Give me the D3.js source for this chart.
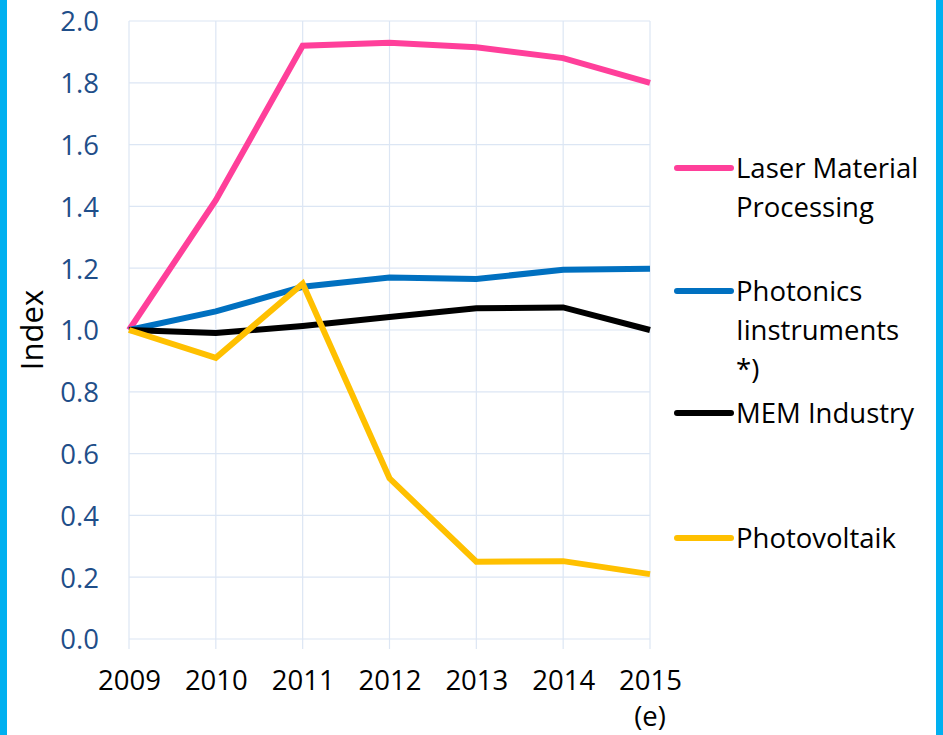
<!DOCTYPE html>
<html><head><meta charset="utf-8">
<script src="https://cdn.jsdelivr.net/npm/d3@7"></script>
<style>body{margin:0;background:#fff;}svg{display:block;}</style>
</head><body>
<svg id="c" width="943" height="735"></svg>
<script>
const years = [2009, 2010, 2011, 2012, 2013, 2014, 2015];
const yearLabels = ["2009", "2010", "2011", "2012", "2013", "2014", "2015"];
const yTicks = [0, 0.2, 0.4, 0.6, 0.8, 1.0, 1.2, 1.4, 1.6, 1.8, 2.0];
const seriesNames = ["Laser Material Processing", "Photonics Iinstruments *)", "MEM Industry", "Photovoltaik"];
const laser = [1.0, 1.42, 1.92, 1.93, 1.915, 1.88, 1.80];
const photonics = [1.0, 1.06, 1.14, 1.17, 1.165, 1.195, 1.198];
const mem = [1.0, 0.99, 1.013, 1.042, 1.07, 1.073, 1.0];
const photovoltaik = [1.0, 0.91, 1.15, 0.52, 0.25, 0.252, 0.21];
const colors = ["#ff3f9a", "#0070c0", "#000000", "#ffc000"];
const legendLines = [["Laser Material", "Processing"], ["Photonics", "Iinstruments", "*)"], ["MEM Industry"], ["Photovoltaik"]];
const legendY = [168, 291, 413, 538];

const svg = d3.select("#c");
const font = "'Open Sans', sans-serif";
const fs = 27.5;
// side borders
svg.append("rect").attr("x", 0).attr("y", 0).attr("width", 7).attr("height", 735).attr("fill", "#00b0f0");
svg.append("rect").attr("x", 936).attr("y", 0).attr("width", 7).attr("height", 735).attr("fill", "#00b0f0");

const x = d3.scaleLinear().domain([2009, 2015]).range([129, 650]);
const y = d3.scaleLinear().domain([0, 2]).range([639, 21]);

const g = svg.append("g");
g.selectAll("line.h").data(yTicks).join("line")
  .attr("x1", x(2009)).attr("x2", x(2015))
  .attr("y1", d => y(d)).attr("y2", d => y(d))
  .attr("stroke", "#dce6f4").attr("stroke-width", 1.2);
g.selectAll("line.v").data(years).join("line")
  .attr("x1", d => x(d)).attr("x2", d => x(d))
  .attr("y1", y(2)).attr("y2", y(0) + 10)
  .attr("stroke", "#dce6f4").attr("stroke-width", 1.2);

const yAxis = d3.axisLeft(y).tickValues(yTicks).tickFormat(d3.format(".1f")).tickSize(0).tickPadding(0);
const ya = svg.append("g").attr("transform", "translate(99,0)").call(yAxis);
ya.select(".domain").remove();
ya.selectAll("text").attr("fill", "#1f4e89").attr("font-family", font).attr("font-size", fs).attr("dy", "0.36em");

const xAxis = d3.axisBottom(x).tickValues(years).tickFormat((d, i) => yearLabels[i]).tickSize(0).tickPadding(0);
const xa = svg.append("g").attr("transform", "translate(0,690)").call(xAxis);
xa.select(".domain").remove();
xa.selectAll("text").attr("fill", "#000").attr("font-family", font).attr("font-size", fs).attr("dy", 0);

svg.append("text").attr("x", x(2015)).attr("y", 726).attr("text-anchor", "middle")
  .attr("font-family", font).attr("font-size", fs).attr("fill", "#000").text("(e)");

svg.append("text").attr("transform", "translate(43,330) rotate(-90)").attr("text-anchor", "middle")
  .attr("font-family", font).attr("font-size", 31).attr("fill", "#000").text("Index");

const data = [laser, photonics, mem, photovoltaik];
const line = d3.line().x((d, i) => x(years[i])).y(d => y(d));
[0, 1, 2, 3].forEach(k => {
  svg.append("path").datum(data[k]).attr("d", line).attr("fill", "none")
    .attr("stroke", colors[k]).attr("stroke-width", 6).attr("stroke-linejoin", "miter").attr("stroke-linecap", "butt");
});

legendLines.forEach((ls, k) => {
  svg.append("line").attr("x1", 677).attr("x2", 731).attr("y1", legendY[k]).attr("y2", legendY[k])
    .attr("stroke", colors[k]).attr("stroke-width", 6).attr("stroke-linecap", "round");
  ls.forEach((t, j) => {
    svg.append("text").attr("x", 736).attr("y", legendY[k] + j * 39).attr("dy", "0.36em")
      .attr("font-family", font).attr("font-size", fs).attr("fill", "#000").text(t);
  });
});
</script>
</body></html>
